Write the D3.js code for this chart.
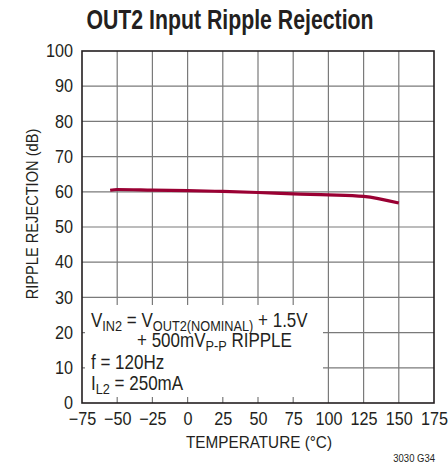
<!DOCTYPE html>
<html>
<head>
<meta charset="utf-8">
<script src="https://cdn.jsdelivr.net/npm/d3@7"></script>
<style>
  html, body { margin: 0; padding: 0; background: #fff; }
  svg text { font-family: "Liberation Sans", Arial, sans-serif; fill: #231f20; }
</style>
</head>
<body>
<svg id="chart" width="448" height="469"></svg>
<script>
// Ripple rejection vs. temperature
const temperatures = [-55, -50, -25, 0, 25, 50, 75, 100, 125, 150];
const rejection    = [60.45, 60.65, 60.5, 60.35, 60.1, 59.8, 59.4, 59.15, 58.7, 56.8];
const xTicks = [-75, -50, -25, 0, 25, 50, 75, 100, 125, 150, 175];
const yTicks = [0, 10, 20, 30, 40, 50, 60, 70, 80, 90, 100];

const svg = d3.select("#chart");
const margin = { left: 82, right: 14, top: 51, bottom: 66 };
const W = 448, H = 469;

const x = d3.scaleLinear().domain([-75, 175]).range([margin.left, W - margin.right]);
const y = d3.scaleLinear().domain([0, 100]).range([H - margin.bottom, margin.top]);

// condensed text: horizontal squeeze around the anchor point
function label(parent, px, py, sx, size) {
  return parent.append("text")
    .attr("transform", `translate(${px},${py}) scale(${sx},1)`)
    .style("font-size", size + "px");
}

// title
label(svg, 230, 29, 0.76, 28)
  .attr("text-anchor", "middle")
  .style("font-weight", "bold")
  .text("OUT2 Input Ripple Rejection");

// grid
const grid = svg.append("g").attr("stroke", "#7a7a7a").attr("stroke-width", 1.2);
grid.selectAll("line.v").data(xTicks.slice(1, -1)).join("line")
  .attr("x1", d => x(d)).attr("x2", d => x(d))
  .attr("y1", y(0)).attr("y2", y(100));
grid.selectAll("line.h").data(yTicks.slice(1, -1)).join("line")
  .attr("x1", x(-75)).attr("x2", x(175))
  .attr("y1", d => y(d)).attr("y2", d => y(d));

// white panel behind the test conditions
svg.append("rect")
  .attr("x", 85).attr("y", 305)
  .attr("width", 238).attr("height", 92)
  .attr("fill", "#fff");

// frame
svg.append("rect")
  .attr("x", x(-75)).attr("y", y(100))
  .attr("width", x(175) - x(-75)).attr("height", y(0) - y(100))
  .attr("fill", "none").attr("stroke", "#231f20").attr("stroke-width", 1.6);

// data curve
svg.append("path")
  .datum(temperatures.map((t, i) => [t, rejection[i]]))
  .attr("fill", "none")
  .attr("stroke", "#9a0033")
  .attr("stroke-width", 3.2)
  .attr("stroke-linejoin", "round")
  .attr("d", d3.line().x(d => x(d[0])).y(d => y(d[1])).curve(d3.curveMonotoneX));

// axes
const tickSx = 0.9;
const yAxis = d3.axisLeft(y).tickValues(yTicks).tickSize(0).tickPadding(0).tickFormat(d3.format("d"));
const gy = svg.append("g").attr("transform", `translate(${x(-75)},0)`).call(yAxis);
gy.select(".domain").remove();
gy.selectAll("text")
  .style("font-size", "18px").attr("fill", "#231f20")
  .attr("x", -9 / tickSx)
  .attr("transform", `scale(${tickSx},1)`);

const fmtX = d => (d < 0 ? "\u2212" + Math.abs(d) : String(d));
const xAxis = d3.axisBottom(x).tickValues(xTicks).tickSize(0).tickPadding(9).tickFormat(fmtX);
const gx = svg.append("g").attr("transform", `translate(0,${y(0)})`).call(xAxis);
gx.select(".domain").remove();
gx.selectAll("text")
  .style("font-size", "18px").attr("fill", "#231f20")
  .attr("transform", `scale(${tickSx},1)`);

// axis titles
svg.append("text")
  .attr("transform", "translate(38,214) rotate(-90) scale(0.86,1)")
  .attr("text-anchor", "middle")
  .style("font-size", "17px")
  .text("RIPPLE REJECTION (dB)");

label(svg, 259, 448, 0.9, 17)
  .attr("text-anchor", "middle")
  .text("TEMPERATURE (\u00B0C)");

label(svg, 435, 462, 0.95, 10)
  .attr("text-anchor", "end")
  .text("3030 G34");

// test conditions
const noteSx = 0.85, noteSize = 20;
function sub(t, s) { t.append("tspan").attr("dy", 4).style("font-size", "15px").text(s); }
function base(t, s) { t.append("tspan").attr("dy", -4).text(s); }

const l1 = label(svg, 91, 327, noteSx, noteSize);
l1.append("tspan").text("V");
sub(l1, "IN2");
base(l1, " = V");
sub(l1, "OUT2(NOMINAL)");
base(l1, " + 1.5V");

const l2 = label(svg, 137, 347, noteSx, noteSize);
l2.append("tspan").text("+ 500mV");
sub(l2, "P-P");
base(l2, " RIPPLE");

label(svg, 91, 369, noteSx, noteSize).text("f = 120Hz");

const l4 = label(svg, 91, 390, noteSx, noteSize);
l4.append("tspan").text("I");
sub(l4, "L2");
base(l4, " = 250mA");
</script>
</body>
</html>
